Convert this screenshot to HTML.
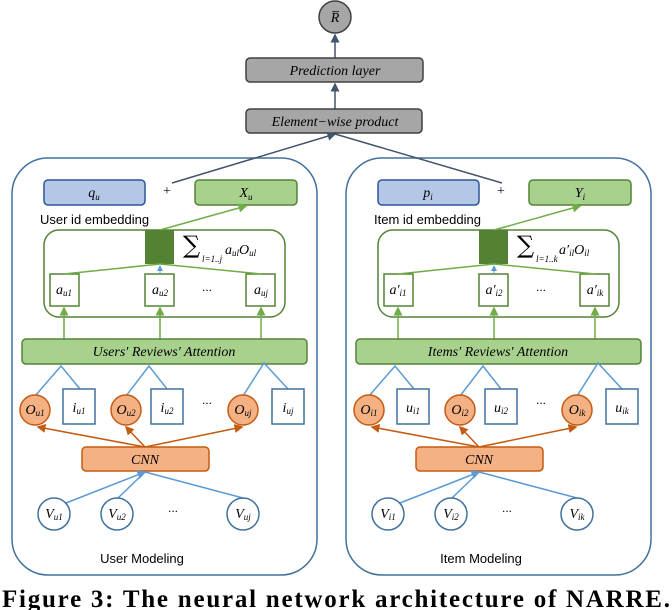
<!DOCTYPE html>
<html><head><meta charset="utf-8"><style>
body{margin:0;background:#fff;}
svg{display:block;}
.m{font-family:"Liberation Serif",serif;font-style:italic;font-size:14px;}
.s{font-size:9px;}
.l{font-family:"Liberation Sans",sans-serif;font-size:13px;}
</style></head><body>
<svg width="672" height="610" viewBox="0 0 672 610" xmlns="http://www.w3.org/2000/svg">
<defs>
<marker id="ab" markerWidth="6" markerHeight="6" refX="5" refY="3" orient="auto"><path d="M0,0L6,3L0,6z" fill="#44546a"/></marker>
<marker id="ag" markerWidth="6" markerHeight="6" refX="5" refY="3" orient="auto"><path d="M0,0L6,3L0,6z" fill="#70ad47"/></marker>
<marker id="ao" markerWidth="6" markerHeight="6" refX="5" refY="3" orient="auto"><path d="M0,0L6,3L0,6z" fill="#c55a11"/></marker>
<marker id="al" markerWidth="6" markerHeight="6" refX="5" refY="3" orient="auto"><path d="M0,0L6,3L0,6z" fill="#5b9bd5"/></marker>
<g id="panel">
<rect x="12" y="158" width="305" height="417" rx="36" fill="none" stroke="#41719c" stroke-width="1.5"/>
<rect x="44" y="180" width="101" height="25" rx="4" fill="#b4c7e7" stroke="#2f5597" stroke-width="1.5"/>
<text x="167" y="195" class="m" text-anchor="middle" style="font-style:normal">+</text>
<rect x="195" y="180" width="102" height="25" rx="4" fill="#a9d18e" stroke="#548235" stroke-width="1.5"/>
<rect x="44" y="230" width="241" height="87" rx="15" fill="none" stroke="#548235" stroke-width="1.5"/>
<rect x="145" y="230" width="29" height="34" fill="#548235"/>
<line x1="160" y1="230" x2="246" y2="206" stroke="#70ad47" stroke-width="1.5" marker-end="url(#ag)"/>
<rect x="50" y="274" width="29" height="32" fill="#fff" stroke="#548235" stroke-width="1.5"/>
<rect x="145" y="274" width="29" height="32" fill="#fff" stroke="#548235" stroke-width="1.5"/>
<rect x="246" y="274" width="29" height="32" fill="#fff" stroke="#548235" stroke-width="1.5"/>
<g stroke="#70ad47" stroke-width="1.5"><line x1="160" y1="264" x2="64" y2="274"/><line x1="160" y1="264" x2="261" y2="274"/></g>
<line x1="160" y1="274" x2="160" y2="266" stroke="#5b9bd5" marker-end="url(#al)"/>
<text x="207" y="291" font-size="12" text-anchor="middle" font-family="Liberation Sans">...</text>
<g stroke="#70ad47" stroke-width="1.5"><line x1="64" y1="339" x2="64" y2="308" marker-end="url(#ag)"/><line x1="160" y1="339" x2="160" y2="308" marker-end="url(#ag)"/><line x1="261" y1="339" x2="261" y2="308" marker-end="url(#ag)"/></g>
<rect x="22" y="339" width="285" height="25" rx="4" fill="#a9d18e" stroke="#548235" stroke-width="1.5"/>
<g stroke="#5b9bd5" stroke-width="1.5" fill="none"><path d="M35,396L61,366L80,389"/><path d="M126,396L149,366L167,389"/><path d="M243,396L264,363L288,389"/></g>
<g fill="#f4b183" stroke="#c55a11" stroke-width="1.5"><circle cx="35" cy="410" r="15"/><circle cx="126" cy="410" r="15"/><circle cx="243" cy="410" r="15"/></g>
<g fill="#fff" stroke="#41719c" stroke-width="1.5"><rect x="63" y="389" width="32" height="35"/><rect x="151" y="389" width="32" height="35"/><rect x="272" y="389" width="32" height="35"/></g>
<text x="207" y="404" font-size="12" text-anchor="middle" font-family="Liberation Sans">...</text>
<g stroke="#c55a11" stroke-width="1.5"><line x1="145" y1="447" x2="38" y2="427" marker-end="url(#ao)"/><line x1="145" y1="447" x2="126" y2="427" marker-end="url(#ao)"/><line x1="145" y1="447" x2="242" y2="427" marker-end="url(#ao)"/></g>
<rect x="82" y="447" width="127" height="24" rx="4" fill="#f4b183" stroke="#c55a11" stroke-width="1.5"/>
<g stroke="#5b9bd5" stroke-width="1.5"><line x1="66" y1="503" x2="145" y2="472" marker-end="url(#al)"/><line x1="118" y1="498" x2="145" y2="472"/><line x1="243" y1="498" x2="145" y2="472"/></g>
<g fill="#fff" stroke="#41719c" stroke-width="1.5"><circle cx="54" cy="514" r="16"/><circle cx="117" cy="514" r="16"/><circle cx="243" cy="514" r="16"/></g>
<text x="173" y="512" font-size="12" text-anchor="middle" font-family="Liberation Sans">...</text>
</g>
</defs>
<circle cx="335" cy="17" r="16" fill="#a6a6a6" stroke="#404040" stroke-width="1.5"/>
<text x="335" y="22" class="m" text-anchor="middle">R̅</text>
<line x1="335" y1="58" x2="335" y2="35" stroke="#44546a" stroke-width="1.5" marker-end="url(#ab)"/>
<rect x="246" y="58" width="177" height="24" rx="4" fill="#a6a6a6" stroke="#404040" stroke-width="1.5"/>
<text x="335" y="75" class="m" text-anchor="middle" font-size="13">Prediction layer</text>
<line x1="335" y1="109" x2="335" y2="84" stroke="#44546a" stroke-width="1.5" marker-end="url(#ab)"/>
<rect x="246" y="109" width="176" height="24" rx="4" fill="#a6a6a6" stroke="#404040" stroke-width="1.5"/>
<text x="335" y="126" class="m" text-anchor="middle" font-size="13">Element−wise product</text>
<use href="#panel"/>
<use href="#panel" transform="translate(334,0)"/>
<g stroke="#44546a" stroke-width="1.5"><line x1="172" y1="183" x2="335" y2="134" marker-end="url(#ab)"/><line x1="502" y1="183" x2="335" y2="134"/></g>
<text x="94" y="197" class="m" text-anchor="middle">q<tspan class="s" dy="3">u</tspan></text>
<text x="246" y="197" class="m" text-anchor="middle">X<tspan class="s" dy="3">u</tspan></text>
<text x="40" y="224" class="l">User id embedding</text>
<text x="183" y="253" font-family="DejaVu Serif" font-size="24">∑</text>
<text x="202" y="262" class="m s">l=1..j</text>
<text x="225" y="254" class="m" font-size="12">a<tspan class="s" dy="2">ul</tspan><tspan dy="-2">O</tspan><tspan class="s" dy="2">ul</tspan></text>
<text x="64" y="294" class="m" text-anchor="middle" font-size="12">a<tspan class="s" dy="2">u1</tspan></text>
<text x="160" y="294" class="m" text-anchor="middle" font-size="12">a<tspan class="s" dy="2">u2</tspan></text>
<text x="261" y="294" class="m" text-anchor="middle" font-size="12">a<tspan class="s" dy="2">uj</tspan></text>
<text x="164" y="356" class="m" text-anchor="middle" font-size="12.5">Users′ Reviews′ Attention</text>
<text x="35" y="414" class="m" text-anchor="middle" font-size="12">O<tspan class="s" dy="2">u1</tspan></text>
<text x="126" y="414" class="m" text-anchor="middle" font-size="12">O<tspan class="s" dy="2">u2</tspan></text>
<text x="243" y="414" class="m" text-anchor="middle" font-size="12">O<tspan class="s" dy="2">uj</tspan></text>
<text x="79" y="412" class="m" text-anchor="middle" font-size="12">i<tspan class="s" dy="2">u1</tspan></text>
<text x="167" y="412" class="m" text-anchor="middle" font-size="12">i<tspan class="s" dy="2">u2</tspan></text>
<text x="288" y="412" class="m" text-anchor="middle" font-size="12">i<tspan class="s" dy="2">uj</tspan></text>
<text x="145" y="464" class="m" text-anchor="middle" font-size="12">CNN</text>
<text x="54" y="518" class="m" text-anchor="middle" font-size="12">V<tspan class="s" dy="2">u1</tspan></text>
<text x="117" y="518" class="m" text-anchor="middle" font-size="12">V<tspan class="s" dy="2">u2</tspan></text>
<text x="243" y="518" class="m" text-anchor="middle" font-size="12">V<tspan class="s" dy="2">uj</tspan></text>
<text x="142" y="563" class="l" text-anchor="middle">User Modeling</text>
<text x="428" y="197" class="m" text-anchor="middle">p<tspan class="s" dy="3">i</tspan></text>
<text x="580" y="197" class="m" text-anchor="middle">Y<tspan class="s" dy="3">i</tspan></text>
<text x="374" y="224" class="l">Item id embedding</text>
<text x="517" y="253" font-family="DejaVu Serif" font-size="24">∑</text>
<text x="536" y="262" class="m s">l=1..k</text>
<text x="559" y="254" class="m" font-size="12">a′<tspan class="s" dy="2">il</tspan><tspan dy="-2">O</tspan><tspan class="s" dy="2">il</tspan></text>
<text x="398" y="294" class="m" text-anchor="middle" font-size="12">a′<tspan class="s" dy="2">i1</tspan></text>
<text x="494" y="294" class="m" text-anchor="middle" font-size="12">a′<tspan class="s" dy="2">i2</tspan></text>
<text x="595" y="294" class="m" text-anchor="middle" font-size="12">a′<tspan class="s" dy="2">ik</tspan></text>
<text x="498" y="356" class="m" text-anchor="middle" font-size="12.5">Items′ Reviews′ Attention</text>
<text x="369" y="414" class="m" text-anchor="middle" font-size="12">O<tspan class="s" dy="2">i1</tspan></text>
<text x="460" y="414" class="m" text-anchor="middle" font-size="12">O<tspan class="s" dy="2">i2</tspan></text>
<text x="577" y="414" class="m" text-anchor="middle" font-size="12">O<tspan class="s" dy="2">ik</tspan></text>
<text x="413" y="412" class="m" text-anchor="middle" font-size="12">u<tspan class="s" dy="2">i1</tspan></text>
<text x="501" y="412" class="m" text-anchor="middle" font-size="12">u<tspan class="s" dy="2">i2</tspan></text>
<text x="622" y="412" class="m" text-anchor="middle" font-size="12">u<tspan class="s" dy="2">ik</tspan></text>
<text x="479" y="464" class="m" text-anchor="middle" font-size="12">CNN</text>
<text x="388" y="518" class="m" text-anchor="middle" font-size="12">V<tspan class="s" dy="2">i1</tspan></text>
<text x="451" y="518" class="m" text-anchor="middle" font-size="12">V<tspan class="s" dy="2">i2</tspan></text>
<text x="577" y="518" class="m" text-anchor="middle" font-size="12">V<tspan class="s" dy="2">ik</tspan></text>
<text x="481" y="563" class="l" text-anchor="middle">Item Modeling</text>
<text x="2" y="607" font-family="Liberation Serif" font-weight="bold" font-size="25" textLength="668" lengthAdjust="spacing">Figure 3: The neural network architecture of NARRE.</text>
</svg>
</body></html>
